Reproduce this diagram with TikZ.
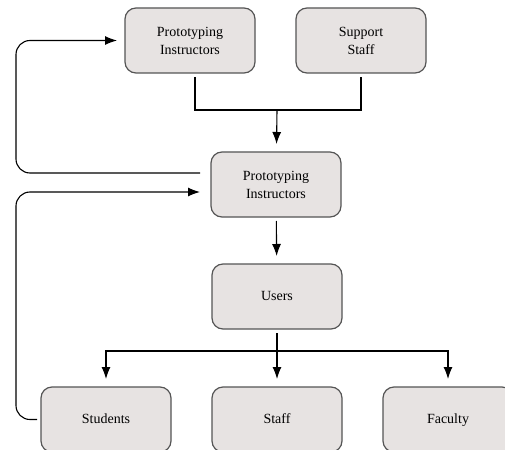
\documentclass[tikz,border=0pt]{standalone}
\usepackage{fontspec}
\setmainfont{Liberation Serif}
\usepackage{tikz}
\usetikzlibrary{arrows.meta}

\definecolor{boxfill}{RGB}{231,227,226}
\definecolor{boxline}{RGB}{85,85,85}

\begin{document}
\begin{tikzpicture}[x=1pt,y=-1pt]
        \tikzset{box/.style = {shape=rectangle, rounded corners=11pt, draw=boxline, line width=1.2pt,
            fill=boxfill, minimum width=130pt, minimum height=65pt, align=center,
            font=\fontsize{14}{18}\selectfont, text=black, outer sep=4pt}}
        \tikzset{onebox/.style = {box, text height=10pt, text depth=3pt}}
        \tikzset{edge/.style = {-{Latex[length=12pt,width=9pt]}, line width=1.1pt, shorten >=4pt}}
        \tikzset{feed/.style = {edge, rounded corners=14pt}}

        \clip (0,0) rectangle (505,449);
        \fill[white] (0,0) rectangle (505,449);

        % boxes
        \node[box] (pitop) at (190,40.5) {Prototyping\\Instructors};
        \node[box] (sstaff) at (361,40.5) {Support\\Staff};
        \node[box] (pimid) at (276,184.5) {Prototyping\\Instructors};
        \node[onebox] (users) at (277,296.5) {Users};
        \foreach \x/\name/\txt in {106/stud/Students, 277/staff/Staff, 448/fac/Faculty}
            \node[onebox] (\name) at (\x,419.5) {\txt};

        % helper points
        \coordinate (join) at (277,110);
        \coordinate (split) at (277,351);
        \coordinate (rail) at (16,0);
        \coordinate (fbout) at (200,173);
        \coordinate (fbin) at (204,192);

        % edges
        \draw[line width=1.1pt] ([xshift=5pt]pitop.south) |- (join) -| (sstaff.south);
        \draw[edge] (join) -- (pimid);
        \draw[edge] (pimid) -- (users);
        \draw[line width=1.1pt] (users) -- (split);
        \foreach \name in {stud, staff, fac}
            \draw[edge] (split) -| (\name);

        % feedback loops
        \draw[feed] (fbout) -- (rail |- fbout) |- (pitop.west);
        \draw[feed] (stud.west) -- (rail |- stud.west) |- (fbin);
    \end{tikzpicture}
\end{document}
